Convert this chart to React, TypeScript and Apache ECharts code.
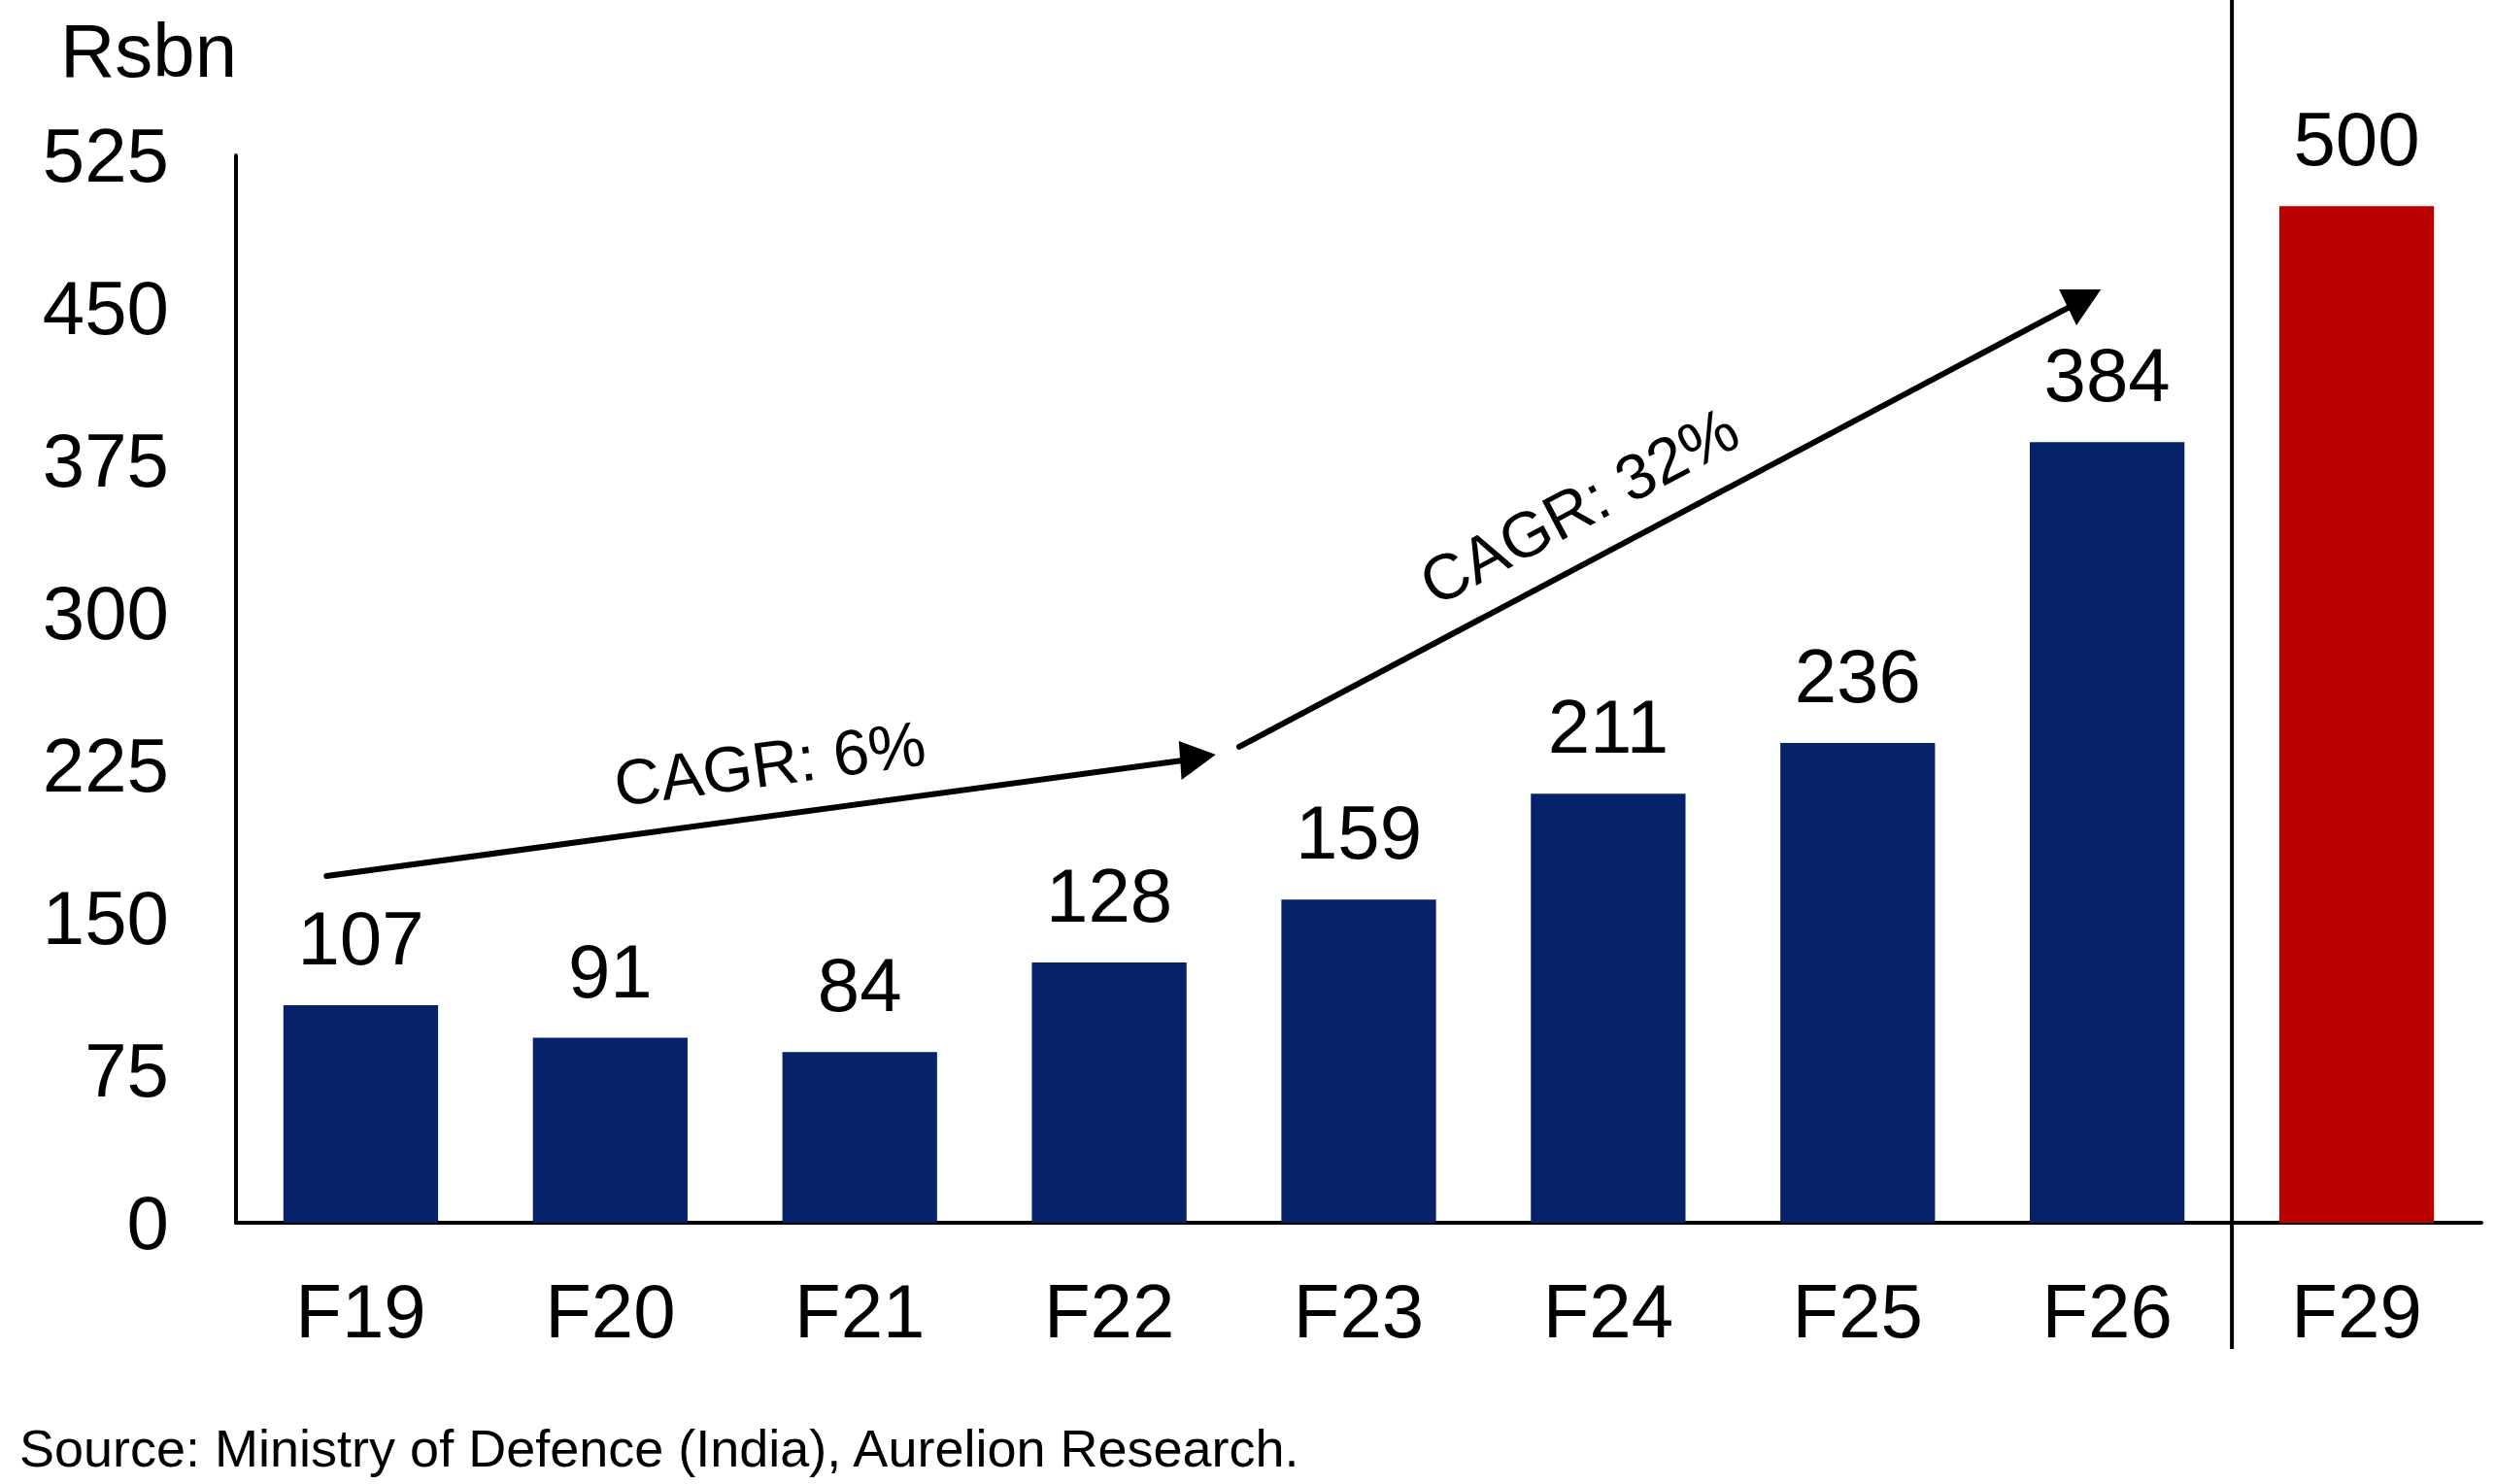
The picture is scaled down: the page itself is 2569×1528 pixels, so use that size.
import React, { useEffect, useRef } from "react";
import * as echarts from "echarts";

const categories = ["F19", "F20", "F21", "F22", "F23", "F24", "F25", "F26", "F29"];
const values = [107, 91, 84, 128, 159, 211, 236, 384, 500];
const barColors = ["#06236A", "#06236A", "#06236A", "#06236A", "#06236A", "#06236A", "#06236A", "#06236A", "#BA0000"];
const yMin = 0;
const yMax = 525;
const yInterval = 75;
const unitLabel = "Rsbn";
const sourceText = "Source: Ministry of Defence (India), Aurelion Research.";
const cagrLabels = ["CAGR: 6%", "CAGR: 32%"];

// annotation anchors in data space: [fractional category index, value]
const arrow1Line = [[-0.137, 170.5], [3.294, 227.4]];
const arrow1Head = [[3.279, 236.9], [3.427, 230.3], [3.29, 217.8]];
const arrow2Line = [[3.521, 234.1], [6.858, 451.0]];
const arrow2Head = [[6.807, 459.1], [6.975, 459.1], [6.877, 441.4]];
const label1Anchor = [1.639, 226];
const label2Anchor = [4.883, 352.6];
const dividerIndex = 7.5;

const FONT = "'Liberation Sans', Arial, Helvetica, sans-serif";

export default function App() {
  const ref = useRef<HTMLDivElement>(null);

  useEffect(() => {
    document.body.style.margin = "0";
    const chart = echarts.init(ref.current!, null, { renderer: "svg" });
    const option: any = {
      animation: false,
      backgroundColor: "#ffffff",
      textStyle: { fontFamily: FONT },
      grid: { left: 243, right: 14, top: 160, bottom: 269, containLabel: false },
      xAxis: {
        type: "category",
        data: categories,
        boundaryGap: true,
        axisLine: { show: true, lineStyle: { color: "#000", width: 4 } },
        axisTick: { show: false },
        axisLabel: { fontSize: 78, color: "#000", margin: 52, fontFamily: FONT },
        splitLine: { show: false },
      },
      yAxis: {
        type: "value",
        min: yMin,
        max: yMax,
        interval: yInterval,
        axisLine: { show: true, lineStyle: { color: "#000", width: 4 } },
        axisTick: { show: false },
        axisLabel: { fontSize: 78, color: "#000", margin: 69, fontFamily: FONT },
        splitLine: { show: false },
      },
      series: [
        {
          type: "bar",
          barWidth: "62%",
          data: values.map((v, i) => ({ value: v, itemStyle: { color: barColors[i] } })),
          label: {
            show: true,
            position: "top",
            distance: 30,
            fontSize: 78,
            color: "#000",
            fontFamily: FONT,
          },
        },
      ],
    };
    chart.setOption(option);

    const toPx = (f: number, v: number) => {
      const a = chart.convertToPixel({ seriesIndex: 0 }, [0, v]) as number[];
      const b = chart.convertToPixel({ seriesIndex: 0 }, [1, v]) as number[];
      return [a[0] + f * (b[0] - a[0]), a[1]];
    };

    const base = toPx(0, 0);
    const divX = toPx(dividerIndex, 0)[0];
    const a1s = toPx(arrow1Line[0][0], arrow1Line[0][1]);
    const a1e = toPx(arrow1Line[1][0], arrow1Line[1][1]);
    const a2s = toPx(arrow2Line[0][0], arrow2Line[0][1]);
    const a2e = toPx(arrow2Line[1][0], arrow2Line[1][1]);
    const l1 = toPx(label1Anchor[0], label1Anchor[1]);
    const l2 = toPx(label2Anchor[0], label2Anchor[1]);
    const ang1 = Math.atan2(a1s[1] - a1e[1], a1e[0] - a1s[0]);
    const ang2 = Math.atan2(a2s[1] - a2e[1], a2e[0] - a2s[0]);

    chart.setOption({
      graphic: [
        {
          type: "line",
          shape: { x1: divX, y1: 0, x2: divX, y2: base[1] + 130 },
          style: { stroke: "#000", lineWidth: 4 },
          z: 10,
        },
        {
          type: "line",
          shape: { x1: a1s[0], y1: a1s[1], x2: a1e[0], y2: a1e[1] },
          style: { stroke: "#000", lineWidth: 6, lineCap: "round" },
          z: 10,
        },
        {
          type: "polygon",
          shape: { points: arrow1Head.map((p) => toPx(p[0], p[1])) },
          style: { fill: "#000" },
          z: 10,
        },
        {
          type: "line",
          shape: { x1: a2s[0], y1: a2s[1], x2: a2e[0], y2: a2e[1] },
          style: { stroke: "#000", lineWidth: 6, lineCap: "round" },
          z: 10,
        },
        {
          type: "polygon",
          shape: { points: arrow2Head.map((p) => toPx(p[0], p[1])) },
          style: { fill: "#000" },
          z: 10,
        },
        {
          type: "text",
          x: l1[0],
          y: l1[1],
          rotation: ang1,
          style: {
            text: cagrLabels[0],
            fontSize: 66,
            fontFamily: FONT,
            fill: "#000",
            align: "center",
            verticalAlign: "middle",
          },
          z: 10,
        },
        {
          type: "text",
          x: l2[0],
          y: l2[1],
          rotation: ang2,
          style: {
            text: cagrLabels[1],
            fontSize: 66,
            fontFamily: FONT,
            fill: "#000",
            align: "center",
            verticalAlign: "middle",
          },
          z: 10,
        },
        {
          type: "text",
          x: 62,
          y: 52,
          style: {
            text: unitLabel,
            fontSize: 78,
            fontFamily: FONT,
            fill: "#000",
            align: "left",
            verticalAlign: "middle",
          },
        },
        {
          type: "text",
          x: 20,
          y: 1491,
          style: {
            text: sourceText,
            fontSize: 54,
            fontFamily: FONT,
            fill: "#000",
            align: "left",
            verticalAlign: "middle",
          },
        },
      ],
    });

    return () => chart.dispose();
  }, []);

  return (
    <div
      ref={ref}
      style={{ position: "absolute", left: 0, top: 0, width: 2569, height: 1528, background: "#fff" }}
    />
  );
}
